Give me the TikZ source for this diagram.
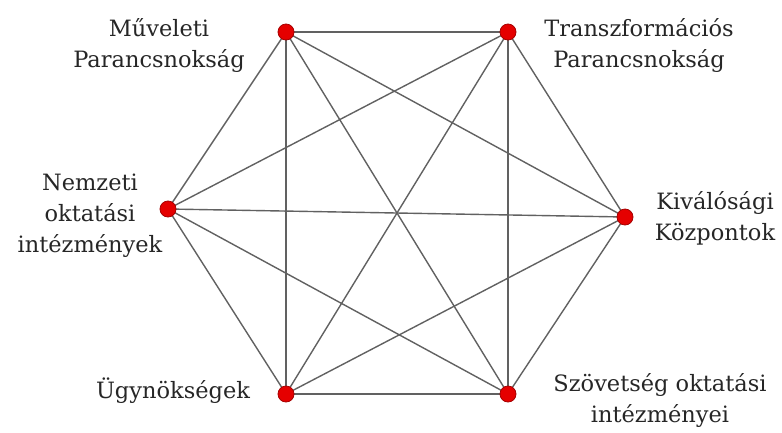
\documentclass[tikz,border=0pt]{standalone}
\usepackage{fontspec}
\setmainfont{DejaVu Serif}
\begin{document}
\begin{tikzpicture}[x=1pt,y=-1pt,
  edge/.style={draw=black!62, line width=1.4pt},
  dot/.style={circle, fill=red!90!black, draw=red!65!black, line width=0.8pt, minimum size=16pt, inner sep=0pt},
  lbl/.style={align=center, inner sep=0pt, font=\fontsize{22.5}{31}\selectfont, text=black!85}]
\useasboundingbox (0,0) rectangle (782,432);
\coordinate (M) at (286,32);
\coordinate (T) at (508,32);
\coordinate (N) at (168,209);
\coordinate (K) at (625,217);
\coordinate (U) at (286,394);
\coordinate (S) at (508,394);
\foreach \a/\b in {M/T,T/K,K/S,S/U,U/N,N/M,M/K,M/S,M/U,T/N,T/U,T/S,N/K,N/S,K/U}
  \draw[edge] (\a) -- (\b);
\foreach \p in {M,T,N,K,U,S}
  \node[dot] (d\p) at (\p) {};
\node[lbl] (lM) at (159,45) {Műveleti\\Parancsnokság};
\node[lbl] (lT) at (639,45) {Transzformációs\\Parancsnokság};
\node[lbl] (lN) at (90,216) {Nemzeti\\oktatási\\intézmények};
\node[lbl] (lK) at (715,218) {Kiválósági\\Központok};
\node[lbl] (lU) at (173,391) {Ügynökségek};
\node[lbl] (lS) at (660,400) {Szövetség oktatási\\intézményei};
\end{tikzpicture}
\end{document}
